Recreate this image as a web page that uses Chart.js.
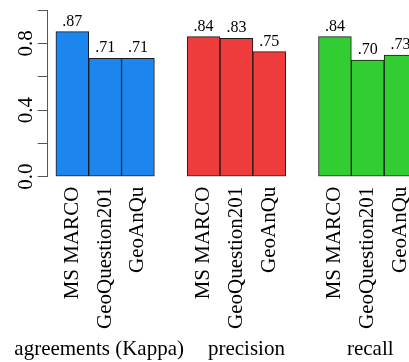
<!DOCTYPE html>
<html><head><meta charset="utf-8">
<script src="https://cdn.jsdelivr.net/npm/chart.js@4"></script>
<style>html,body{margin:0;padding:0;overflow:hidden;background:#fff;width:409px;height:362px}canvas{display:block}</style>
</head><body>
<canvas id="c" width="430" height="362"></canvas>
<script>
const categories = ['MS MARCO', 'GeoQuestion201', 'GeoAnQu'];
const groups = ['agreements (Kappa)', 'precision', 'recall'];
const kappa = [0.87, 0.71, 0.71];
const precision = [0.84, 0.83, 0.75];
const recall = [0.84, 0.70, 0.73];
const yTickLabels = ['0.0', '', '0.4', '', '0.8', ''];
const colors = ['#1C86EE', '#EE3B3B', '#32CD32'];

const series = [kappa, precision, recall];
const per = categories.length + 1;
const pos = (g, i) => g * per + i + 0.5;

const datasets = series.map((vals, g) => ({
  label: groups[g],
  data: vals.map((v, i) => ({x: pos(g, i), y: v})),
  backgroundColor: colors[g],
  borderColor: '#1a1a1a',
  borderWidth: 1,
  borderSkipped: false,
  grouped: false,
  barPercentage: 1,
  categoryPercentage: 1
}));

const tickPositions = [];
const tickText = [];
groups.forEach((_, g) => categories.forEach((c, i) => { tickPositions.push(pos(g, i)); tickText.push(c); }));

const FONT = "'Liberation Serif', 'Times New Roman', serif";
Chart.defaults.font.family = FONT;
Chart.defaults.color = '#000';

const valueLabels = {
  id: 'valueLabels',
  afterDatasetsDraw(chart) {
    const ctx = chart.ctx;
    ctx.save();
    ctx.font = '16px ' + FONT;
    ctx.fillStyle = '#000';
    ctx.textAlign = 'center';
    ctx.textBaseline = 'alphabetic';
    chart.data.datasets.forEach((ds, d) => {
      chart.getDatasetMeta(d).data.forEach((el, i) => {
        const txt = ds.data[i].y.toFixed(2).replace(/^0/, '');
        ctx.fillText(txt, el.x, el.y - 6);
      });
    });
    ctx.restore();
  }
};

const groupOffsets = [-6, 10, 2.5];
const groupLabels = {
  id: 'groupLabels',
  afterDraw(chart) {
    const ctx = chart.ctx, xs = chart.scales.x;
    ctx.save();
    ctx.font = '21px ' + FONT;
    ctx.fillStyle = '#000';
    ctx.textAlign = 'center';
    ctx.textBaseline = 'alphabetic';
    groups.forEach((gname, g) => {
      const cx = xs.getPixelForValue(pos(g, (categories.length - 1) / 2));
      ctx.fillText(gname, cx + groupOffsets[g], 355);
    });
    ctx.restore();
  }
};

new Chart(document.getElementById('c'), {
  type: 'bar',
  data: {datasets},
  options: {
    responsive: false,
    animation: false,
    layout: {autoPadding: false, padding: {top: 10, right: 4.8, left: 0, bottom: 0}},
    plugins: {legend: {display: false}, tooltip: {enabled: false}},
    scales: {
      x: {
        type: 'linear',
        offset: false,
        min: -0.25,
        max: groups.length * per - 0.75,
        afterBuildTicks(scale) { scale.ticks = tickPositions.map(v => ({value: v})); },
        afterFit(scale) { scale.height = 185.3; scale.paddingLeft = 0; scale.paddingRight = 0; },
        grid: {display: false, drawTicks: false, offset: false},
        border: {display: false},
        ticks: {
          autoSkip: false,
          minRotation: 90,
          maxRotation: 90,
          padding: 10,
          font: {size: 21, family: FONT},
          color: '#000',
          callback(value, index) { return tickText[index]; }
        }
      },
      y: {
        min: 0,
        max: 1,
        afterFit(scale) { scale.width = 47.7; scale.paddingTop = 0; scale.paddingBottom = 0; },
        grid: {drawOnChartArea: false, drawTicks: true, tickLength: 10, color: '#555', lineWidth: 1},
        border: {display: true, color: '#555', width: 1},
        ticks: {
          stepSize: 0.2,
          autoSkip: false,
          minRotation: 90,
          maxRotation: 90,
          crossAlign: 'center',
          padding: -2,
          font: {size: 21, family: FONT},
          color: '#000',
          callback(value, index) { return yTickLabels[index]; }
        }
      }
    }
  },
  plugins: [valueLabels, groupLabels]
});
</script>
</body></html>
